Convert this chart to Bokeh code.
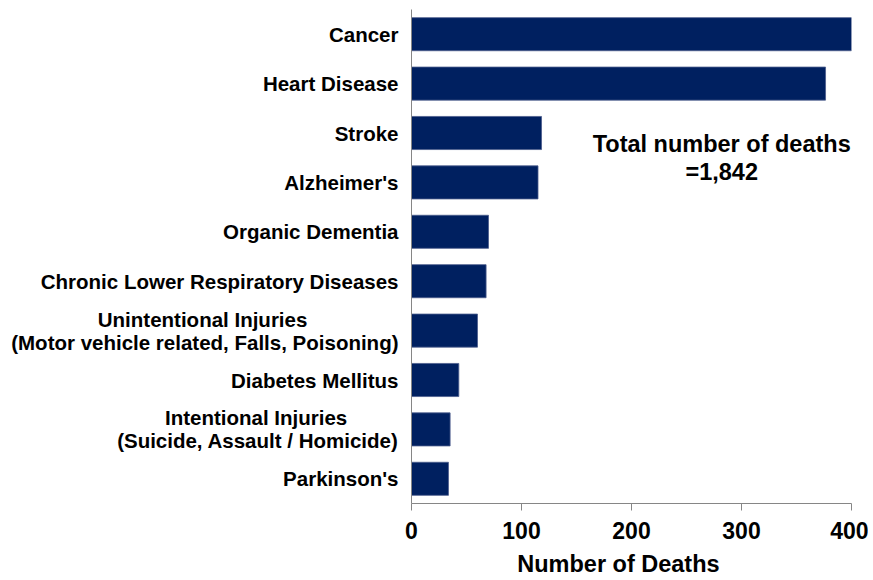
from bokeh.plotting import figure
from bokeh.models import Label, ColumnDataSource
from bokeh.embed import file_html
from bokeh.resources import INLINE

NB = "\u00a0"
categories = [
    "Parkinson's",
    "Intentional Injuries" + NB * 9 + "\n(Suicide, Assault / Homicide)",
    "Diabetes Mellitus",
    "Unintentional Injuries" + NB * 16 + "\n(Motor vehicle related, Falls, Poisoning)",
    "Chronic Lower Respiratory Diseases",
    "Organic Dementia",
    "Alzheimer's",
    "Stroke",
    "Heart Disease",
    "Cancer",
]
deaths = [33.6, 35.1, 43, 60, 67.8, 70, 115, 118.2, 376.4, 401.5]
x_ticks = [0, 100, 200, 300, 400]
x_title = "Number of Deaths"
annotation_lines = ["Total number of deaths", "=1,842"]

FONT = "Liberation Sans"
BAR = "#002060"
AXIS = "#868686"

p = figure(
    y_range=categories, x_range=(0, 400),
    frame_width=440, frame_height=494,
    min_border_left=411, min_border_right=17, min_border_top=9, min_border_bottom=77,
    output_backend="svg", toolbar_location=None,
)
p.outline_line_color = None
p.grid.grid_line_color = None
p.background_fill_color = "white"
p.border_fill_color = "white"

src = ColumnDataSource(dict(cat=categories, val=deaths))
p.hbar(y="cat", right="val", left=0, height=0.67, source=src,
       fill_color=BAR, line_color="#4a5c8c", line_width=0.8)

# x axis
xa = p.xaxis[0]
xa.ticker = x_ticks
xa.axis_line_color = AXIS
xa.major_tick_line_color = AXIS
xa.major_tick_out = 7
xa.major_tick_in = 0
xa.minor_tick_line_color = None
xa.major_label_text_font = FONT
xa.major_label_text_font_style = "bold"
xa.major_label_text_font_size = "23px"
xa.major_label_text_color = "black"
xa.major_label_standoff = 11
xa.axis_label = x_title + NB * 4
xa.axis_label_text_font = FONT
xa.axis_label_text_font_style = "bold"
xa.axis_label_text_font_size = "23.5px"
xa.axis_label_text_color = "black"
xa.axis_label_standoff = 9

# y axis
ya = p.yaxis[0]
ya.axis_line_color = AXIS
ya.major_tick_line_color = None
ya.minor_tick_line_color = None
ya.major_label_text_font = FONT
ya.major_label_text_font_style = "bold"
ya.major_label_text_font_size = "20.5px"
ya.major_label_text_line_height = 1.0
ya.major_label_text_color = "black"
ya.major_label_standoff = 7

for line, ypos in zip(annotation_lines, [7.28, 6.71]):
    p.add_layout(Label(x=282, y=ypos, text=line, text_align="center",
                       text_baseline="middle", text_font=FONT,
                       text_font_style="bold", text_font_size="23.5px",
                       text_color="black"))

open("out.html", "w").write(file_html(p, INLINE))
